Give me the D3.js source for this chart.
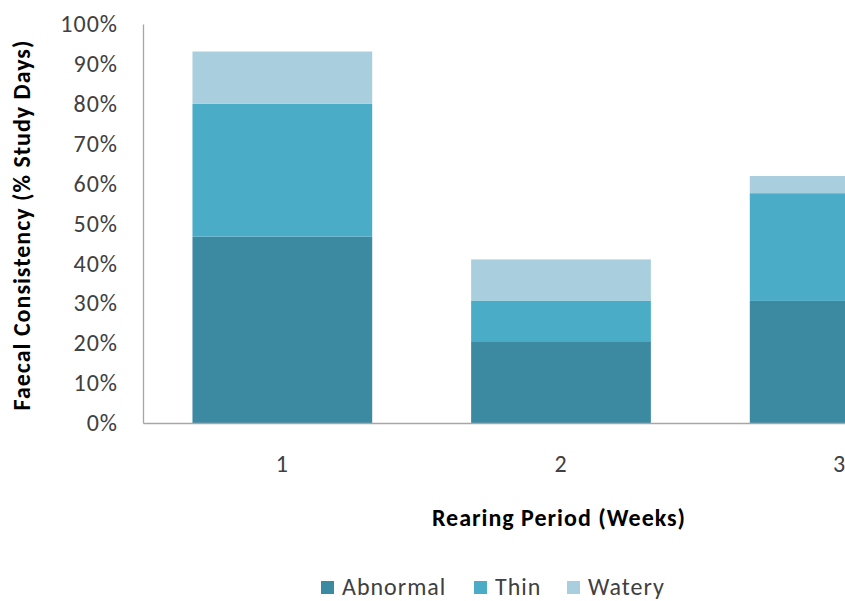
<!DOCTYPE html>
<html>
<head>
<meta charset="utf-8">
<script src="https://cdn.jsdelivr.net/npm/d3@7"></script>
<style>
  html, body { margin: 0; padding: 0; background: #fff; }
  svg { display: block; }
  text { font-family: Carlito, Lato, "Open Sans", sans-serif; letter-spacing: 1px; }
</style>
</head>
<body>
<svg id="chart" width="845" height="601"></svg>
<script>
// Rearing period categories (weeks)
const categories = ["1", "2", "3"];
// Share of study days per faecal consistency class (%)
const abnormal = [46.7, 20.5, 30.6];
const thin = [33.3, 10.2, 27.0];
const watery = [13.1, 10.3, 4.3];
const seriesNames = ["Abnormal", "Thin", "Watery"];
const seriesColors = ["#3c8aa2", "#4aacc6", "#a9cedd"];
const yTicks = [0, 10, 20, 30, 40, 50, 60, 70, 80, 90, 100];

const svg = d3.select("#chart");
const margin = { left: 143, top: 24, bottom: 423 };

const rows = categories.map((c, i) => ({
  cat: c, Abnormal: abnormal[i], Thin: thin[i], Watery: watery[i]
}));
const stacked = d3.stack().keys(seriesNames)(rows);

const x = d3.scaleBand().domain(categories).range([margin.left, 979]).paddingInner(0.355).paddingOuter(0.1775);
const y = d3.scaleLinear().domain([0, 100]).range([margin.bottom, margin.top]);
const color = d3.scaleOrdinal().domain(seriesNames).range(seriesColors);

// stacked bars
svg.append("g").selectAll("g").data(stacked).join("g")
  .attr("fill", d => color(d.key))
  .selectAll("rect").data(d => d).join("rect")
  .attr("x", d => x(d.data.cat))
  .attr("width", x.bandwidth())
  .attr("y", d => y(d[1]))
  .attr("height", d => y(d[0]) - y(d[1]));

// y axis
const yAxis = svg.append("g").attr("transform", `translate(${margin.left},0)`)
  .call(d3.axisLeft(y).tickValues(yTicks).tickSize(0).tickPadding(25).tickFormat(d => d + "%"));
yAxis.select(".domain").attr("stroke", "#a6a6a6").attr("stroke-width", 1.3);
yAxis.selectAll("text").attr("font-size", 24).attr("fill", "#404040");

// x axis
const xAxis = svg.append("g").attr("transform", `translate(0,${margin.bottom})`)
  .call(d3.axisBottom(x).tickSize(0).tickPadding(32));
xAxis.select(".domain").attr("stroke", "#a6a6a6").attr("stroke-width", 1.3);
xAxis.selectAll("text").attr("font-size", 24).attr("fill", "#404040");

// axis titles
svg.append("text")
  .attr("x", 559).attr("y", 526).attr("text-anchor", "middle")
  .attr("font-size", 24).attr("font-weight", "bold").attr("fill", "#000")
  .text("Rearing Period (Weeks)");
svg.append("text")
  .attr("transform", "translate(30,225) rotate(-90)").attr("text-anchor", "middle")
  .attr("font-size", 24).attr("font-weight", "bold").attr("fill", "#000")
  .text("Faecal Consistency (% Study Days)");

// legend
const legendX = [321, 474, 567];
const legend = svg.append("g").selectAll("g").data(seriesNames).join("g")
  .attr("transform", (d, i) => `translate(${legendX[i]},595)`);
legend.append("rect").attr("x", 0).attr("y", -14).attr("width", 13).attr("height", 13)
  .attr("fill", d => color(d));
legend.append("text").attr("x", 21).attr("y", 0).attr("font-size", 24).attr("fill", "#404040")
  .text(d => d);
</script>
</body>
</html>
